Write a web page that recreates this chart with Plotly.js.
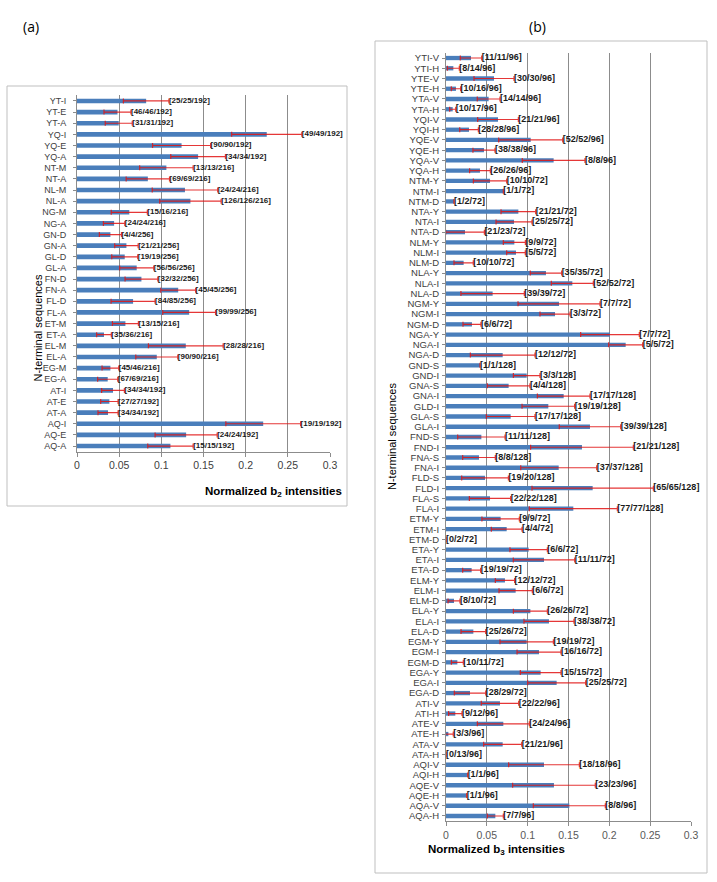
<!DOCTYPE html>
<html>
<head>
<meta charset="utf-8">
<script src="https://cdn.plot.ly/plotly-3.0.1.min.js"></script>
<style>html,body{margin:0;padding:0;background:#fff;}#chart{width:717px;height:882px;}</style>
</head>
<body>
<div id="chart"></div>
<script>
// ---------- Panel (a): normalized b2 intensities ----------
const catsA = ["YT-I","YT-E","YT-A","YQ-I","YQ-E","YQ-A","NT-M","NT-A","NL-M","NL-A","NG-M","NG-A",
  "GN-D","GN-A","GL-D","GL-A","FN-D","FN-A","FL-D","FL-A","ET-M","ET-A","EL-M","EL-A",
  "EG-M","EG-A","AT-I","AT-E","AT-A","AQ-I","AQ-E","AQ-A"];
const valsA = [0.082,0.048,0.0495,0.225,0.124,0.1436,0.106,0.084,0.128,0.1345,0.062,0.044,
  0.0396,0.0586,0.0566,0.0708,0.0764,0.12,0.0665,0.133,0.0574,0.032,0.129,0.0946,
  0.0396,0.0364,0.0427,0.0384,0.0368,0.2208,0.1294,0.1108];
const errsA = [0.027,0.016,0.016,0.0416,0.0344,0.0324,0.0317,0.0257,0.0388,0.0364,0.0214,0.0127,
  0.0131,0.0139,0.0154,0.0202,0.0194,0.0206,0.0261,0.0313,0.0154,0.0087,0.0443,0.0249,
  0.0099,0.0119,0.0135,0.0103,0.0119,0.0443,0.0368,0.0269];
const labelsA = ["[25/25/192]","[46/46/192]","[31/31/192]","[49/49/192]","[90/90/192]","[34/34/192]",
  "[13/13/216]","[69/69/216]","[24/24/216]","[126/126/216]","[15/16/216]","[24/24/216]",
  "[4/4/256]","[21/21/256]","[19/19/256]","[56/56/256]","[32/32/256]","[45/45/256]",
  "[84/85/256]","[99/99/256]","[13/15/216]","[35/36/216]","[28/28/216]","[90/90/216]",
  "[45/46/216]","[67/69/216]","[34/34/192]","[27/27/192]","[34/34/192]","[19/19/192]",
  "[24/24/192]","[15/15/192]"];

// ---------- Panel (b): normalized b3 intensities ----------
const catsB = ["YTI-V","YTI-H","YTE-V","YTE-H","YTA-V","YTA-H","YQI-V","YQI-H","YQE-V","YQE-H","YQA-V","YQA-H",
  "NTM-Y","NTM-I","NTM-D","NTA-Y","NTA-I","NTA-D","NLM-Y","NLM-I","NLM-D","NLA-Y","NLA-I","NLA-D",
  "NGM-Y","NGM-I","NGM-D","NGA-Y","NGA-I","NGA-D","GND-S","GND-I","GNA-S","GNA-I","GLD-I","GLA-S","GLA-I",
  "FND-S","FND-I","FNA-S","FNA-I","FLD-S","FLD-I","FLA-S","FLA-I",
  "ETM-Y","ETM-I","ETM-D","ETA-Y","ETA-I","ETA-D","ELM-Y","ELM-I","ELM-D","ELA-Y","ELA-I","ELA-D",
  "EGM-Y","EGM-I","EGM-D","EGA-Y","EGA-I","EGA-D",
  "ATI-V","ATI-H","ATE-V","ATE-H","ATA-V","ATA-H","AQI-V","AQI-H","AQE-V","AQE-H","AQA-V","AQA-H"];
const valsB = [0.0306,0.009,0.0588,0.0122,0.0522,0.0082,0.0637,0.0282,0.1037,0.0465,0.1318,0.0416,
  0.0539,0.0702,0.0098,0.0886,0.0833,0.0233,0.0837,0.0857,0.0216,0.1224,0.1547,0.0571,
  0.1384,0.1335,0.0318,0.2008,0.22,0.0694,0.0416,0.0988,0.0767,0.1441,0.1253,0.0792,0.1763,
  0.0433,0.1665,0.0404,0.138,0.0478,0.1796,0.0539,0.1559,
  0.0669,0.0743,0,0.1012,0.12,0.0314,0.0722,0.0853,0.0098,0.1033,0.1261,0.0335,
  0.0988,0.1139,0.0139,0.1159,0.1355,0.0294,
  0.0661,0.0114,0.0702,0.0029,0.0694,0,0.12,0.0265,0.1322,0.0253,0.151,0.0604];
const errsB = [0.0131,0.0073,0.0245,0.0057,0.0139,0.0037,0.0249,0.0114,0.0392,0.0135,0.0384,0.0127,
  0.0204,0,0,0.0212,0.022,0.0237,0.0135,0.0114,0.0118,0.0192,0.0257,0.0388,
  0.0502,0.0184,0.011,0.0359,0.0208,0.0396,0,0.0163,0.0261,0.0322,0.0322,0.0298,0.0376,
  0.029,0.0629,0.02,0.0465,0.0286,0.0743,0.0253,0.0539,
  0.0229,0.0188,0,0.0229,0.0376,0.011,0.0118,0.0204,0.0073,0.0208,0.0306,0.0151,
  0.0327,0.0269,0.0073,0.0249,0.0355,0.0192,
  0.0229,0.0082,0.0318,0.006,0.0233,0,0.0433,0,0.0506,0,0.0441,0.0098];
const labelsB = ["[11/11/96]","[8/14/96]","[30/30/96]","[10/16/96]","[14/14/96]","[10/17/96]",
  "[21/21/96]","[28/28/96]","[52/52/96]","[38/38/96]","[8/8/96]","[26/26/96]",
  "[10/10/72]","[1/1/72]","[1/2/72]","[21/21/72]","[25/25/72]","[21/23/72]",
  "[9/9/72]","[5/5/72]","[10/10/72]","[35/35/72]","[52/52/72]","[39/39/72]",
  "[7/7/72]","[3/3/72]","[6/6/72]","[7/7/72]","[5/5/72]","[12/12/72]",
  "[1/1/128]","[3/3/128]","[4/4/128]","[17/17/128]","[19/19/128]","[17/17/128]","[39/39/128]",
  "[11/11/128]","[21/21/128]","[8/8/128]","[37/37/128]","[19/20/128]","[65/65/128]","[22/22/128]","[77/77/128]",
  "[9/9/72]","[4/4/72]","[0/2/72]","[6/6/72]","[11/11/72]","[19/19/72]",
  "[12/12/72]","[6/6/72]","[8/10/72]","[26/26/72]","[38/38/72]","[25/26/72]",
  "[19/19/72]","[16/16/72]","[10/11/72]","[15/15/72]","[25/25/72]","[28/29/72]",
  "[22/22/96]","[9/12/96]","[24/24/96]","[3/3/96]","[21/21/96]","[0/13/96]",
  "[18/18/96]","[1/1/96]","[23/23/96]","[1/1/96]","[8/8/96]","[7/7/96]"];

const xTicks = [0,0.05,0.1,0.15,0.2,0.25,0.3];
const xTickText = ["0","0.05","0.1","0.15","0.2","0.25","0.3"];

const W = 717, H = 882;
const px = v => v / W;
const py = v => 1 - v / H;

const barColor = '#4a7ebb';
const errColor = 'rgba(225,20,20,0.85)';
const labelFont = {family: '"Liberation Sans Narrow", "Arial Narrow", Arial, sans-serif', color: '#1a1a1a', weight: 'bold'};

function barTrace(cats, vals, errs, xa, ya) {
  return {
    type: 'bar', orientation: 'h', x: vals, y: cats, xaxis: xa, yaxis: ya,
    marker: {color: barColor, line: {width: 0}},
    error_x: {type: 'data', array: errs, symmetric: true, visible: true, color: errColor, thickness: 1.2, width: 2.5},
    hoverinfo: 'skip', showlegend: false
  };
}
function textTrace(cats, vals, errs, labels, xa, ya, size) {
  return {
    type: 'scatter', mode: 'text', x: vals.map((v, i) => v + errs[i]), y: cats,
    text: labels, textposition: 'middle right', xaxis: xa, yaxis: ya,
    textfont: Object.assign({}, labelFont, {size: size}), cliponaxis: false,
    hoverinfo: 'skip', showlegend: false
  };
}

const data = [
  barTrace(catsA, valsA, errsA, 'x', 'y'),
  textTrace(catsA, valsA, errsA, labelsA, 'x', 'y', 8),
  barTrace(catsB, valsB, errsB, 'x2', 'y2'),
  textTrace(catsB, valsB, errsB, labelsB, 'x2', 'y2', 9)
];

function xAxis(domain, anchor, tickColor) {
  return {
    domain: domain, anchor: anchor, range: [0, 0.3], tickmode: 'array', tickvals: xTicks, ticktext: xTickText,
    showgrid: true, gridcolor: '#8c8c8c', gridwidth: 1, zeroline: false,
    showline: true, linecolor: '#8c8c8c', linewidth: 1, ticks: 'outside', ticklen: 4, tickcolor: '#8c8c8c',
    tickfont: {family: 'Arial, "Liberation Sans", sans-serif', size: 10.5, color: tickColor},
    fixedrange: true
  };
}
function yAxis(domain, anchor, cats, size, standoff) {
  return {
    domain: domain, anchor: anchor, type: 'category', categoryorder: 'array', categoryarray: cats,
    tickmode: 'array', tickvals: cats, ticktext: cats,
    range: [cats.length - 0.5, -0.5], showgrid: false, zeroline: false,
    showline: true, linecolor: '#8c8c8c', linewidth: 1, ticks: 'outside', ticklen: 3, tickcolor: '#8c8c8c',
    ticklabelstandoff: standoff,
    tickfont: {family: 'Arial, "Liberation Sans", sans-serif', size: size, color: '#404040'},
    fixedrange: true
  };
}

const layout = {
  width: W, height: H, margin: {l: 0, r: 0, t: 0, b: 0},
  paper_bgcolor: '#ffffff', plot_bgcolor: '#ffffff',
  bargap: 0.58, showlegend: false,
  xaxis: xAxis([px(77), px(330)], 'y', '#404040'),
  yaxis: yAxis([py(451.6), py(95.4)], 'x', catsA, 9, 5),
  xaxis2: xAxis([px(446), px(691)], 'y2', '#595959'),
  yaxis2: yAxis([py(821.1), py(52.9)], 'x2', catsB, 9.5, 1),
  shapes: [
    {type: 'rect', xref: 'paper', yref: 'paper', x0: px(7), x1: px(347), y0: py(506), y1: py(86),
     line: {color: '#bfbfbf', width: 1}, fillcolor: 'rgba(0,0,0,0)', layer: 'below'},
    {type: 'rect', xref: 'paper', yref: 'paper', x0: px(375), x1: px(707), y0: py(873), y1: py(41),
     line: {color: '#bfbfbf', width: 1}, fillcolor: 'rgba(0,0,0,0)', layer: 'below'}
  ],
  annotations: [
    {text: '(a)', xref: 'paper', yref: 'paper', x: px(21), y: py(15), showarrow: false,
     font: {family: '"Open Sans", Arial, sans-serif', size: 14, color: '#000'}},
    {text: '(b)', xref: 'paper', yref: 'paper', x: px(548), y: py(15), showarrow: false,
     font: {family: '"Open Sans", Arial, sans-serif', size: 14, color: '#000'}},
    {text: 'Normalized b<sub>2</sub> intensities', xref: 'paper', yref: 'paper', x: px(203), y: py(492), showarrow: false,
     font: {family: 'Arial, "Liberation Sans", sans-serif', size: 11.5, color: '#000', weight: 'bold'}},
    {text: 'Normalized b<sub>3</sub> intensities', xref: 'paper', yref: 'paper', x: px(567), y: py(859), showarrow: false,
     font: {family: 'Arial, "Liberation Sans", sans-serif', size: 11.5, color: '#000', weight: 'bold'}},
    {text: 'N-terminal sequences', xref: 'paper', yref: 'paper', x: px(29), y: py(273), showarrow: false, textangle: -90,
     font: {family: 'Arial, "Liberation Sans", sans-serif', size: 11, color: '#000'}},
    {text: 'N-terminal sequences', xref: 'paper', yref: 'paper', x: px(392), y: py(437), showarrow: false, textangle: -90,
     font: {family: 'Arial, "Liberation Sans", sans-serif', size: 11, color: '#000'}}
  ]
};

Plotly.newPlot('chart', data, layout, {staticPlot: true, displayModeBar: false});
</script>
</body>
</html>
